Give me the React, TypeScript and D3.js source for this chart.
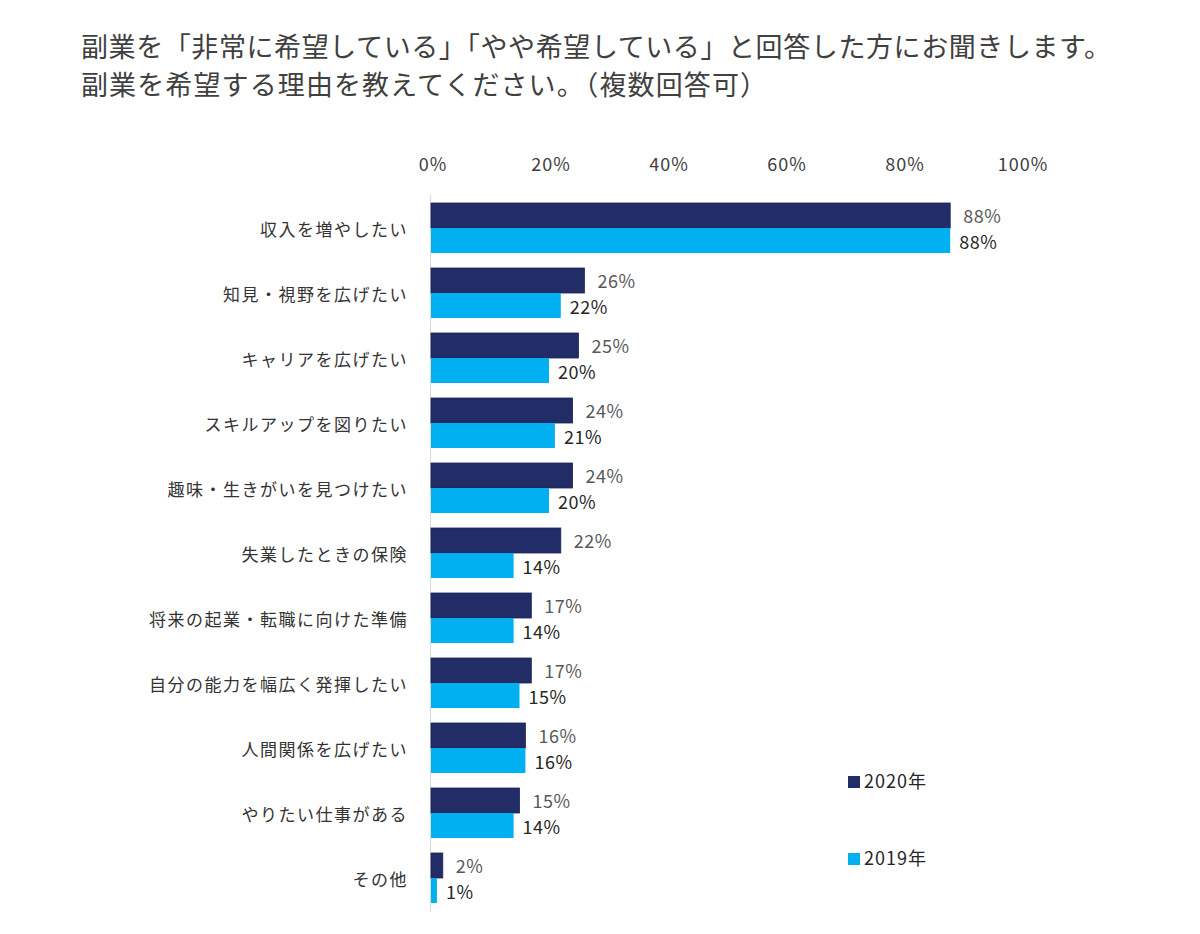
import React from "react";
import * as d3 from "d3";

const titleLines = [
  "副業を「非常に希望している」「やや希望している」と回答した方にお聞きします。",
  "副業を希望する理由を教えてください。（複数回答可）",
];
const categories = [
  "収入を増やしたい",
  "知見・視野を広げたい",
  "キャリアを広げたい",
  "スキルアップを図りたい",
  "趣味・生きがいを見つけたい",
  "失業したときの保険",
  "将来の起業・転職に向けた準備",
  "自分の能力を幅広く発揮したい",
  "人間関係を広げたい",
  "やりたい仕事がある",
  "その他",
];
const values2020 = [88, 26, 25, 24, 24, 22, 17, 17, 16, 15, 2];
const values2019 = [88, 22, 20, 21, 20, 14, 14, 15, 16, 14, 1];
const ticks = [0, 20, 40, 60, 80, 100];
const seriesNames = ["2020年", "2019年"];

const DARK = "#222d68";
const LIGHT = "#00b0f0";
const FONT = "'Noto Sans CJK JP', 'Noto Sans', sans-serif";
const titleWidths = [1030, 686];

export default function App() {
  const W = 1200;
  const H = 934;
  const x = d3.scaleLinear().domain([0, 100]).range([431, 1021]);
  const y = d3.scaleBand<string>().domain(categories).range([195.5, 910.5]);
  const band = y.bandwidth();
  const barH = 25;
  const inner = d3.scaleBand<string>().domain(seriesNames).range([0, barH * 2]);
  const pad = (band - barH * 2) / 2;

  return (
    <svg width={W} height={H} style={{ display: "block", margin: -8, background: "#fff" }} fontFamily={FONT}>
      <rect width={W} height={H} fill="#fff" />
      {titleLines.map((t, i) => (
        <text key={i} x={81} y={57 + i * 38} fontSize={27} fill="#404040" textLength={titleWidths[i]} lengthAdjust="spacing">
          {t}
        </text>
      ))}
      {ticks.map((t) => (
        <text key={t} x={x(t) + 2} y={163} fontSize={18} fill="#404040" textAnchor="middle" letterSpacing={1} dominantBaseline="central">
          {t}%
        </text>
      ))}
      <line x1={x(0) - 0.5} x2={x(0) - 0.5} y1={195} y2={912} stroke="#d9d9d9" strokeWidth={1} />
      {categories.map((c, i) => {
        const y0 = (y(c) as number) + pad;
        const center = (y(c) as number) + band / 2;
        const yd = y0 + (inner(seriesNames[0]) as number);
        const yl = y0 + (inner(seriesNames[1]) as number);
        return (
          <g key={c}>
            <text x={408} y={center} fontSize={17} fill="#333" textAnchor="end" dominantBaseline="central" letterSpacing={1.5}>
              {c}
            </text>
            <rect x={x(0)} y={yd} width={x(values2020[i]) - x(0)} height={barH} fill={DARK} stroke="#1a2358" strokeWidth={0.8} />
            <rect x={x(0)} y={yl} width={x(values2019[i]) - x(0)} height={barH} fill={LIGHT} />
            <text x={x(values2020[i]) + 13} y={yd + barH / 2 - 1} fontSize={18} fill="#595959" dominantBaseline="central" letterSpacing={0.5}>
              {values2020[i]}%
            </text>
            <text x={x(values2019[i]) + 9} y={yl + barH / 2} fontSize={18} fill="#262626" dominantBaseline="central" letterSpacing={0.5}>
              {values2019[i]}%
            </text>
          </g>
        );
      })}
      {seriesNames.map((s, i) => (
        <g key={s} transform={`translate(848, ${776 + i * 77})`}>
          <rect x={0} y={0} width={12} height={12} fill={i === 0 ? DARK : LIGHT} />
          <text x={16} y={4} fontSize={18} fill="#262626" dominantBaseline="central" letterSpacing={1}>
            {s}
          </text>
        </g>
      ))}
    </svg>
  );
}
